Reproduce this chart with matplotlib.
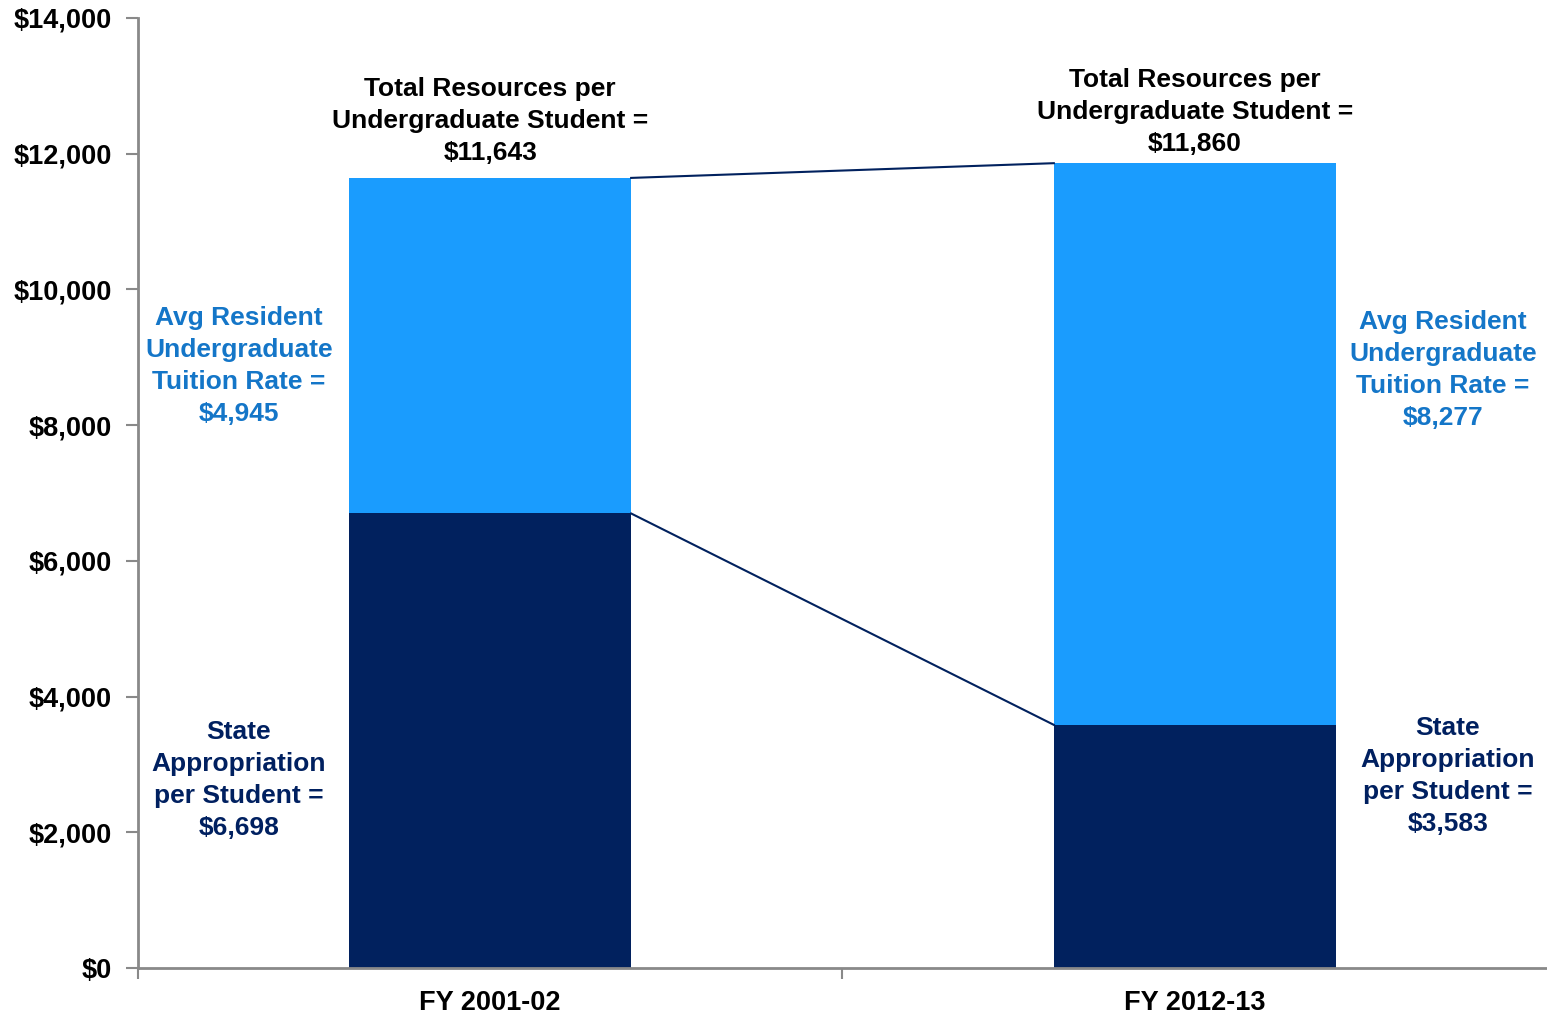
import matplotlib
matplotlib.use('Agg')
import matplotlib.pyplot as plt

# Dados do gráfico
anos = ['FY 2001-02', 'FY 2012-13']
apropriacao_estadual = [6698, 3583]
mensalidade = [4945, 8277]
total_recursos = [11643, 11860]

# Cores
AZUL_ESCURO = '#01215E'
AZUL_CLARO = '#1A9CFE'
TEXTO_AZUL = '#1476C8'
TEXTO_ESCURO = '#002060'
CINZA = '#898989'

plt.rcParams['font.family'] = ['Liberation Sans', 'DejaVu Sans']
plt.rcParams['font.weight'] = 'bold'

fig = plt.figure(figsize=(15.47, 10.15), dpi=100)
ax = fig.add_axes([0.0892, 0.0463, 0.9108, 0.936])

x = range(len(anos))
largura = 0.4
ax.bar(x, apropriacao_estadual, width=largura, color=AZUL_ESCURO, zorder=2)
ax.bar(x, mensalidade, width=largura, bottom=apropriacao_estadual, color=AZUL_CLARO, zorder=2)

# Linhas de ligação entre as barras
ax.plot([0 + largura / 2, 1 - largura / 2], [total_recursos[0], total_recursos[1]],
        color=AZUL_ESCURO, lw=1.5, zorder=3)
ax.plot([0 + largura / 2, 1 - largura / 2], [apropriacao_estadual[0], apropriacao_estadual[1]],
        color=AZUL_ESCURO, lw=1.5, zorder=3)

ax.set_xlim(-0.5, 1.5)
ax.set_ylim(0, 14000)
ax.set_yticks(range(0, 14001, 2000))
ax.set_yticklabels([f'${v:,}' for v in range(0, 14001, 2000)], fontsize=19.5, fontweight='bold')
ax.set_xticks(list(x))
ax.set_xticklabels(anos, fontsize=19.5, fontweight='bold')
ax.set_xticks([-0.5, 0.5], minor=True)
ax.tick_params(axis='x', which='major', length=0, pad=16)
ax.tick_params(axis='x', which='minor', length=8, width=1.5, color=CINZA)
ax.tick_params(axis='y', length=9, width=1.5, color=CINZA, pad=10)

for lado in ['top', 'right']:
    ax.spines[lado].set_visible(False)
for lado in ['left', 'bottom']:
    ax.spines[lado].set_color(CINZA)
    ax.spines[lado].set_linewidth(2)

fs = 19
esp = 1.42
# Rótulos do total
pos_total = [(0.0, 12482), (1.0, 12614)]
for (px, py), t in zip(pos_total, total_recursos):
    ax.text(px, py, f'Total Resources per\nUndergraduate Student =\n${t:,}',
            ha='center', va='center', fontsize=fs, fontweight='bold', color='black', linespacing=esp)

# Rótulos da mensalidade
pos_mens = [(-0.357, 8871), (1.352, 8812)]
for (px, py), m in zip(pos_mens, mensalidade):
    ax.text(px, py, f'Avg Resident\nUndergraduate\nTuition Rate =\n${m:,}',
            ha='center', va='center', fontsize=fs, fontweight='bold', color=TEXTO_AZUL, linespacing=esp)

# Rótulos da apropriação estadual
pos_apr = [(-0.357, 2770), (1.359, 2829)]
for (px, py), a in zip(pos_apr, apropriacao_estadual):
    ax.text(px, py, f'State\nAppropriation\nper Student =\n${a:,}',
            ha='center', va='center', fontsize=fs, fontweight='bold', color=TEXTO_ESCURO, linespacing=esp)

fig.savefig('out.png', dpi=100)
